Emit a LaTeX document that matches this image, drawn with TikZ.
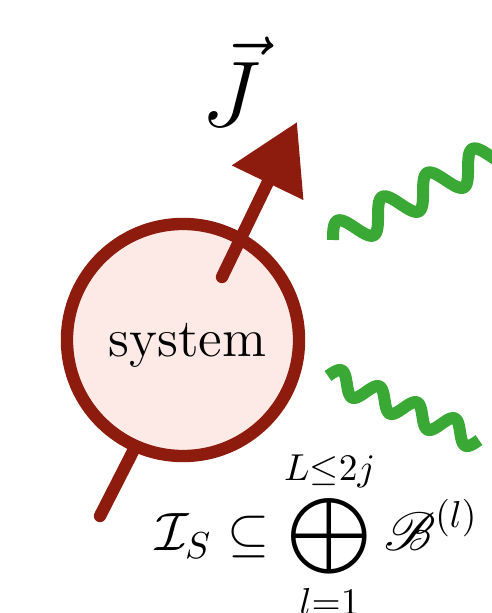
\documentclass[tikz,border=0pt]{standalone}
\usepackage{amsmath,amssymb}
\usepackage{mathrsfs}
\usetikzlibrary{arrows.meta}

\definecolor{spinred}{RGB}{142,28,14}
\definecolor{syspink}{RGB}{253,233,230}
\definecolor{photongreen}{RGB}{57,168,53}

\tikzset{
  spin/.style={draw=spinred, line width=3.3pt, line cap=round},
  photon/.style={draw=photongreen, line width=3.2pt, line join=round},
}

\begin{document}
\begin{tikzpicture}[x=0.2667pt,y=0.2667pt,yscale=-1,xscale=1]
\useasboundingbox (0,0) rectangle (491,613);

%Spin axis points
\coordinate (spin tail) at (100,516);
\coordinate (spin in) at (222,277);
\coordinate (spin tip) at (297,122);

%Straight Lines (below the system)
\draw [spin] (spin tail) -- (spin in) ;

%Circle
\node [circle, draw=spinred, fill=syspink, line width=3.3pt, minimum size=61.9pt, inner sep=0pt] (sys) at (183,340) {};
% Text Node
\node [anchor=base, font=\Large] (systxt) at (187.5,356) {system};

%Arrow
\draw [spin, -{Triangle[length=18pt,width=20.3pt]}] (spin in) -- (spin tip) ;

% Text Node
\node [anchor=base, font=\Huge, inner sep=0pt] (J) at (231,127) {$\vec{J}$};

%Wavy Lines
\begin{scope}[shift={(333,240)}, rotate=-28]
  \draw [photon] plot [domain=0:200, samples=200, smooth] (\x, {-15*sin(\x/51*360)}) ;
\end{scope}
\begin{scope}[shift={(328,376)}, rotate=23]
  \draw [photon] plot [domain=0:164, samples=170, smooth] (\x, {-10.5*sin(\x/41*360)}) ;
\end{scope}

% Text Node
\node [anchor=base, font=\Large, inner sep=0pt] (space) at (317,550) {$\displaystyle \mathcal{I}_S \subseteq \bigoplus_{l=1}^{L\leq 2j} \mathscr{B}^{(l)}$};
\end{tikzpicture}
\end{document}
